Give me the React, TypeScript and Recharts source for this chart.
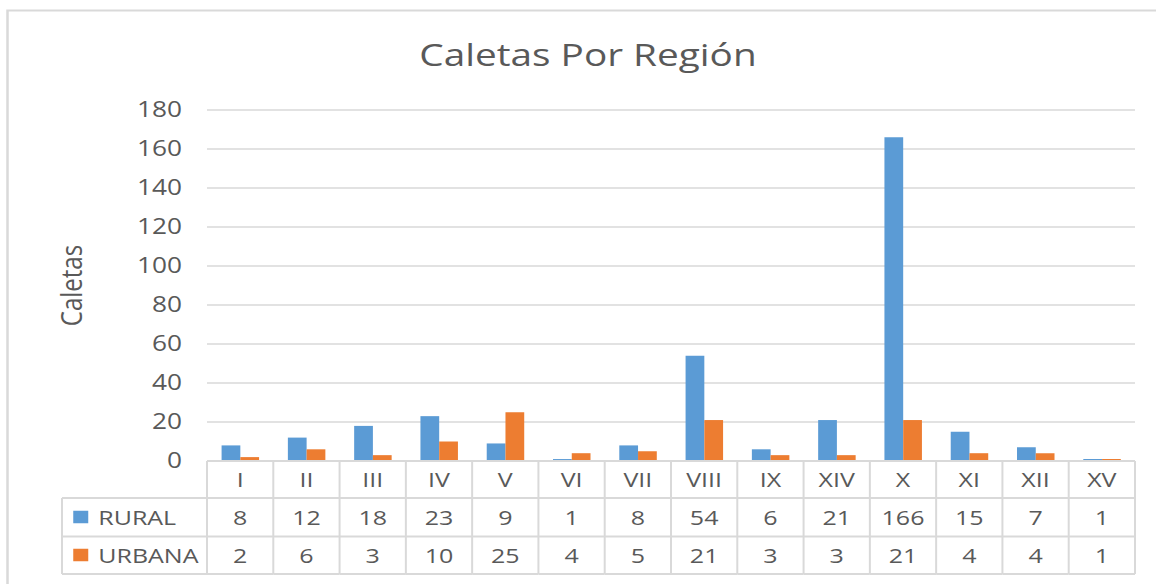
import { BarChart, Bar, XAxis, YAxis, CartesianGrid } from "recharts";

const regions = ["I", "II", "III", "IV", "V", "VI", "VII", "VIII", "IX", "XIV", "X", "XI", "XII", "XV"];
const rural = [8, 12, 18, 23, 9, 1, 8, 54, 6, 21, 166, 15, 7, 1];
const urbana = [2, 6, 3, 10, 25, 4, 5, 21, 3, 3, 21, 4, 4, 1];
const seriesNames = ["RURAL", "URBANA"];
const seriesColors = ["#5b9bd5", "#ed7d31"];
const yTicks = [0, 20, 40, 60, 80, 100, 120, 140, 160, 180];

const data = regions.map((region, i) => ({ region, rural: rural[i], urbana: urbana[i] }));
const tableRows = [rural, urbana];

// the source picture is stretched sideways, so draw narrow and scale the x axis
const STRETCH = 1.25;
const W = 1156 / STRETCH;
const H = 584;
const PLOT_LEFT = 165.6;
const PLOT_RIGHT = 908;
const PLOT_TOP = 110;
const ROWS = [461, 498, 536.5, 574];
const LEGEND_LEFT = 49.6;
const TEXT = "#595959";
const LINE = "#d9d9d9";
const FONT = "'Open Sans', sans-serif";

function TableTick(props: any) {
  const { x, payload } = props;
  const i = payload.index;
  const band = (PLOT_RIGHT - PLOT_LEFT) / regions.length;
  const left = x - band / 2;
  const right = x + band / 2;
  const top = ROWS[0];
  const bottom = ROWS[3];
  const baseline = (r: number) => (ROWS[r] + ROWS[r + 1]) / 2 + 7.5;

  return (
    <g fontFamily={FONT} fontSize={20} fill={TEXT}>
      <line x1={right} x2={right} y1={top} y2={bottom} stroke={LINE} strokeWidth={1.6} />
      {i === 0 && <line x1={left} x2={left} y1={top} y2={bottom} stroke={LINE} strokeWidth={1.6} />}
      {ROWS.slice(1).map((ry) => (
        <line key={ry} x1={left} x2={right} y1={ry} y2={ry} stroke={LINE} strokeWidth={2} />
      ))}
      <text x={x} y={baseline(0)} textAnchor="middle">{regions[i]}</text>
      {tableRows.map((row, r) => (
        <text key={r} x={x} y={baseline(r + 1)} textAnchor="middle">{row[i]}</text>
      ))}
      {i === 0 && (
        <g>
          <line x1={LEGEND_LEFT} x2={LEGEND_LEFT} y1={ROWS[1]} y2={bottom} stroke={LINE} strokeWidth={1.6} />
          {ROWS.slice(1).map((ry) => (
            <line key={ry} x1={LEGEND_LEFT} x2={left} y1={ry} y2={ry} stroke={LINE} strokeWidth={2} />
          ))}
          {seriesNames.map((name, r) => (
            <g key={name}>
              <rect x={LEGEND_LEFT + 9} y={baseline(r + 1) - 14} width={12} height={12.5} fill={seriesColors[r]} />
              <text x={LEGEND_LEFT + 29} y={baseline(r + 1)} textAnchor="start">{name}</text>
            </g>
          ))}
        </g>
      )}
    </g>
  );
}

export default function App() {
  return (
    <div
      style={{
        position: "absolute",
        left: 0,
        top: 0,
        width: W,
        height: H,
        transform: `scaleX(${STRETCH})`,
        transformOrigin: "0 0",
        background: "#fff",
      }}
    >
      <style>{"html,body{margin:0;overflow:hidden}"}</style>
      <BarChart
        width={W}
        height={H}
        data={data}
        margin={{ top: PLOT_TOP, right: W - PLOT_RIGHT, bottom: 10, left: 0 }}
        barCategoryGap="22%"
        barGap={0}
        style={{ fontFamily: FONT }}
      >
        <CartesianGrid vertical={false} stroke={LINE} strokeWidth={1.5} />
        <XAxis
          dataKey="region"
          interval={0}
          height={113}
          tickLine={false}
          tickSize={0}
          axisLine={{ stroke: LINE, strokeWidth: 2 }}
          tick={(p: any) => <TableTick {...p} />}
        />
        <YAxis
          width={PLOT_LEFT}
          domain={[0, 180]}
          ticks={yTicks}
          axisLine={false}
          tickLine={false}
          tickSize={0}
          tickMargin={20}
          tick={{ fill: TEXT, fontSize: 21, fontFamily: FONT }}
        />
        <Bar dataKey="rural" name={seriesNames[0]} fill={seriesColors[0]} isAnimationActive={false} />
        <Bar dataKey="urbana" name={seriesNames[1]} fill={seriesColors[1]} isAnimationActive={false} />
      </BarChart>
      <svg
        width={W}
        height={H}
        style={{ position: "absolute", left: 0, top: 0, pointerEvents: "none" }}
      >
        <rect x={6} y={10.5} width={W + 100} height={H + 100} fill="none" stroke={LINE} strokeWidth={2} />
        <text x={470.4} y={66} textAnchor="middle" fontFamily={FONT} fontSize={31} fill={TEXT}>
          Caletas Por Región
        </text>
        <text
          x={65.6}
          y={285.5}
          transform="rotate(-90 65.6 285.5)"
          textAnchor="middle"
          fontFamily={FONT}
          fontSize={24}
          fill={TEXT}
        >
          Caletas
        </text>
      </svg>
    </div>
  );
}
